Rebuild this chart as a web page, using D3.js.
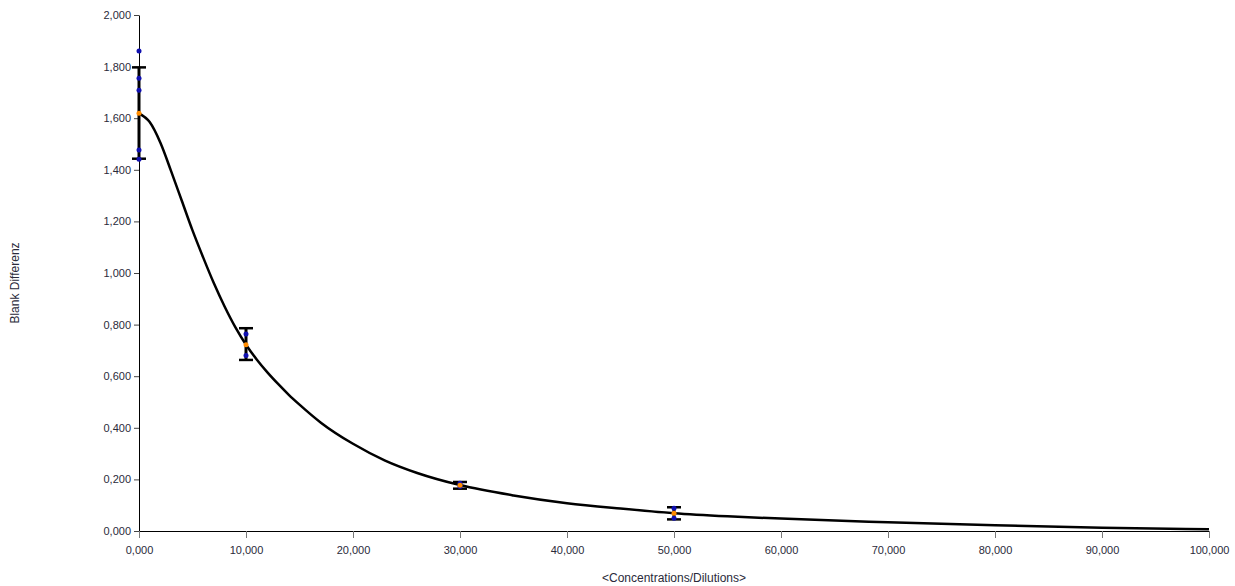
<!DOCTYPE html>
<html>
<head>
<meta charset="utf-8">
<script src="https://cdn.jsdelivr.net/npm/d3@7"></script>
<style>
  body { margin: 0; background: #fff; }
  svg { display: block; font-family: "Liberation Sans", Arial, sans-serif; }
  .tick text { fill: #2a2a3a; font-size: 11px; }
</style>
</head>
<body>
<svg id="chart" width="1235" height="586"></svg>
<script>
// Standard concentrations (x) and measured replicates
const concentrations = [0, 10, 30, 50];
const replicates = [
  [1.860, 1.755, 1.708, 1.477, 1.441],
  [0.764, 0.680],
  [0.185, 0.172],
  [0.088, 0.049]
];
const means = [1.619, 0.722, 0.177, 0.069];
const errLow = [1.443, 0.663, 0.164, 0.045];
const errHigh = [1.797, 0.786, 0.190, 0.092];

// Fitted curve
const curveX = [0, 1, 2, 3, 4, 5, 6, 7, 8, 9, 10, 11, 12, 13, 14, 15, 17, 20, 23, 26, 30, 35, 40, 45, 50, 55, 60, 70, 80, 90, 100];
const curveY = [1.619, 1.585, 1.505, 1.395, 1.28, 1.165, 1.06, 0.96, 0.87, 0.79, 0.722, 0.665, 0.615, 0.57, 0.528, 0.49, 0.42, 0.338, 0.273, 0.225, 0.178, 0.138, 0.108, 0.087, 0.069, 0.057, 0.048, 0.034, 0.022, 0.013, 0.007];

const xTicks = [0, 10, 20, 30, 40, 50, 60, 70, 80, 90, 100];
const yTicks = [0, 0.2, 0.4, 0.6, 0.8, 1.0, 1.2, 1.4, 1.6, 1.8, 2.0];

const svg = d3.select('#chart');
const plotLeft = 139, plotRight = 1209, plotTop = 15, plotBottom = 531;

const locale = d3.formatLocale({ decimal: ',', thousands: '.', grouping: [3], currency: ['', ''] });
const fmt = locale.format('.3f');

const x = d3.scaleLinear().domain([0, 100]).range([plotLeft, plotRight]);
const y = d3.scaleLinear().domain([0, 2]).range([plotBottom, plotTop]);

// Axes
const yAxis = svg.append('g')
  .attr('transform', `translate(${plotLeft},0)`)
  .call(d3.axisLeft(y).tickValues(yTicks).tickFormat(fmt).tickSize(5).tickPadding(3).tickSizeOuter(0));
yAxis.select('.domain').attr('stroke', '#000');
yAxis.selectAll('.tick line').attr('stroke', '#444');

const xAxis = svg.append('g')
  .attr('transform', `translate(0,${plotBottom})`)
  .call(d3.axisBottom(x).tickValues(xTicks).tickFormat(fmt).tickSize(7).tickPadding(8).tickSizeOuter(0));
xAxis.select('.domain').attr('stroke', '#000');
xAxis.selectAll('.tick line').attr('stroke', '#777');

// Axis titles
svg.append('text')
  .attr('transform', `translate(19,${(plotTop + plotBottom) / 2 + 10}) rotate(-90)`)
  .attr('text-anchor', 'middle')
  .style('font-size', '12px')
  .attr('fill', '#2a2a3a')
  .text('Blank Differenz');

svg.append('text')
  .attr('x', (plotLeft + plotRight) / 2)
  .attr('y', 582)
  .attr('text-anchor', 'middle')
  .style('font-size', '12px')
  .attr('fill', '#2a2a3a')
  .text('<Concentrations/Dilutions>');

// Fit curve
const curvePts = curveX.map((d, i) => [d, curveY[i]]);
svg.append('path')
  .datum(curvePts)
  .attr('fill', 'none')
  .attr('stroke', '#000')
  .attr('stroke-width', 2.5)
  .attr('d', d3.line().x(d => x(d[0])).y(d => y(d[1])).curve(d3.curveMonotoneX));

// Error bars
const bars = svg.append('g').selectAll('g')
  .data(concentrations)
  .enter().append('g');

bars.append('line')
  .attr('x1', d => x(d)).attr('x2', d => x(d))
  .attr('y1', (d, i) => y(errLow[i])).attr('y2', (d, i) => y(errHigh[i]))
  .attr('stroke', '#000').attr('stroke-width', 3);

bars.append('line')
  .attr('x1', d => x(d) - 7).attr('x2', d => x(d) + 7)
  .attr('y1', (d, i) => y(errHigh[i])).attr('y2', (d, i) => y(errHigh[i]))
  .attr('stroke', '#000').attr('stroke-width', 2.5);

bars.append('line')
  .attr('x1', d => x(d) - 7).attr('x2', d => x(d) + 7)
  .attr('y1', (d, i) => y(errLow[i])).attr('y2', (d, i) => y(errLow[i]))
  .attr('stroke', '#000').attr('stroke-width', 2.5);

// Replicate points
const flat = [];
concentrations.forEach((c, i) => replicates[i].forEach(v => flat.push({ c: c, v: v })));

svg.append('g').selectAll('circle')
  .data(flat)
  .enter().append('circle')
  .attr('cx', d => x(d.c))
  .attr('cy', d => y(d.v))
  .attr('r', 2.5)
  .attr('fill', '#1010b0');

// Means
svg.append('g').selectAll('circle')
  .data(concentrations)
  .enter().append('circle')
  .attr('cx', d => x(d))
  .attr('cy', (d, i) => y(means[i]))
  .attr('r', 2.5)
  .attr('fill', '#ff8c00');
</script>
</body>
</html>
